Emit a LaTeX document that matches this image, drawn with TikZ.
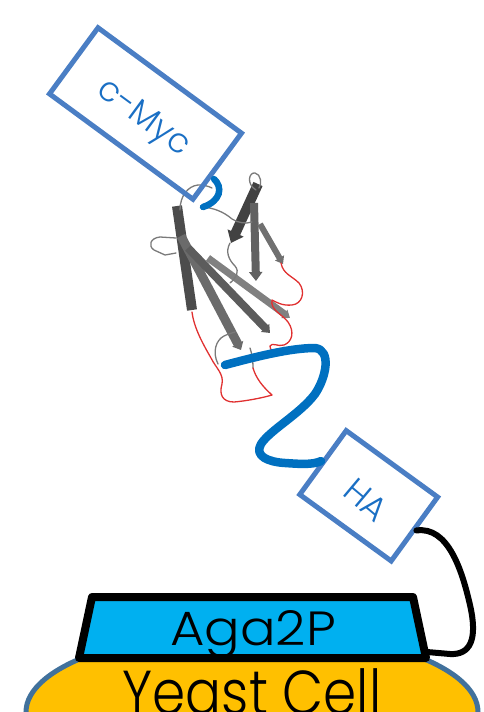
\documentclass[tikz,border=0pt]{standalone}
\usepackage{fontspec}
\setmainfont{Poppins Light}
\usetikzlibrary{arrows.meta}

\definecolor{tagedge}{HTML}{4A7EC4}
\definecolor{tagtext}{HTML}{1A6FC4}
\definecolor{linker}{HTML}{0070C0}
\definecolor{agafill}{HTML}{00B0F0}
\definecolor{cellfill}{HTML}{FFC000}
\definecolor{celledge}{HTML}{41719C}
\definecolor{loopred}{HTML}{E03030}
\definecolor{loopgray}{HTML}{7A7A7A}

\tikzset{
  tagbox/.style={draw=tagedge, line width=5pt, rectangle, inner sep=0pt},
  taglabel/.style={text=tagtext, font=\fontsize{34}{36}\selectfont, inner sep=0pt},
  betastrand/.style={line width=#1, line cap=butt},
  grayloop/.style={draw=loopgray, line width=1.3pt, line cap=round, line join=round},
  redloop/.style={draw=loopred, line width=1.3pt, line cap=round, line join=round},
  bluelink/.style={draw=linker, line width=8.5pt, line cap=round, line join=round},
  anchorlink/.style={draw=black, line width=6pt, line cap=round}
}

\begin{document}
\begin{tikzpicture}[x=1pt,y=-1pt]
\useasboundingbox (0,0) rectangle (483,712);

% yeast cell body, cut by the lower page edge
\begin{scope}
  \clip (0,0) rectangle (483,712);
  \draw[fill=cellfill, draw=celledge, line width=5pt] (252,712) ellipse [x radius=226, y radius=82];
  \node[anchor=base, font=\fontsize{62}{64}\selectfont, inner sep=0pt] (cell) at (252,714) {\scalebox{0.86}[1]{Yeast Cell}};
\end{scope}

% Aga2P anchor protein
\draw[fill=agafill, line width=8pt, line join=round]
  (92,597) -- (413,597) -- (426,658) -- (79,658) -- cycle;
\coordinate (agaR) at (427,652);
\node[anchor=base, font=\fontsize{48}{50}\selectfont, inner sep=0pt] (aga) at (253,645) {\scalebox{1.1}[1]{Aga2P}};

% beta strands of the displayed domain
\draw[betastrand=10pt, black!70] (177,206) -- (192,310);
\draw[betastrand=9pt, black!58, -{Triangle[length=7pt,width=12pt]}] (181,236) -- (241,350);
\draw[betastrand=8pt, black!64, -{Triangle[length=7pt,width=11pt]}] (188,248) -- (270,333);
\draw[betastrand=7pt, black!50, -{Triangle[length=7pt,width=10pt]}] (208,258) -- (290,318);
\draw[betastrand=10pt, black!74, -{Triangle[length=11pt,width=17pt]}] (258,184) -- (231,243);
\draw[betastrand=8pt, black!62, -{Triangle[length=9pt,width=13pt]}] (254,203) -- (256,281);
\draw[betastrand=6pt, black!56, -{Triangle[length=7pt,width=10pt]}] (260,224) -- (283,264);

% gray connecting loops
\draw[grayloop] (180,210) .. controls (180,196) and (188,186) .. (198,185) .. controls (204,185) and (208,186) .. (212,188);
\draw[grayloop] (203,207) .. controls (214,208) and (224,212) .. (232,219) .. controls (238,223) and (246,224) .. (252,222);
\draw[grayloop] (256,190) .. controls (246,184) and (249,172) .. (255,173) .. controls (261,174) and (262,184) .. (259,188);
\draw[grayloop] (176,238) -- (160,237) .. controls (150,238) and (148,246) .. (154,250) -- (165,255) -- (176,253);
\draw[grayloop] (230,243) .. controls (225,252) and (229,260) .. (235,266) .. controls (240,272) and (236,278) .. (230,283);
\draw[grayloop] (218,364) .. controls (212,352) and (216,340) .. (224,336) .. controls (228,334) and (232,333) .. (235,332);
\draw[grayloop] (250,348) .. controls (252,354) and (253,360) .. (253,368);

% red loops
\draw[redloop] (192,312) .. controls (194,328) and (203,344) .. (211,358)
  .. controls (216,368) and (224,374) .. (222,384) .. controls (219,394) and (222,402) .. (234,402)
  .. controls (246,401) and (262,398) .. (272,395) .. controls (262,386) and (256,378) .. (253,368);
\draw[redloop] (281,263) .. controls (283,274) and (292,276) .. (299,283)
  .. controls (306,292) and (302,304) .. (292,305) .. controls (282,306) and (276,302) .. (272,300)
  .. controls (270,310) and (282,314) .. (288,322) .. controls (295,332) and (292,342) .. (284,345)
  .. controls (278,347) and (272,342) .. (270,346) .. controls (269,351) and (276,352) .. (281,351);
\draw[redloop] (284,350) circle [radius=2.6];

% c-Myc tag and its short connection to the domain
\node[tagbox, minimum width=178pt, minimum height=82pt, rotate=-36.3] (myc) at (145.5,113.5) {};
\node[taglabel, rotate=-36.3] (myclabel) at (143,119) {c-Myc};
\draw[draw=linker, line width=6.5pt, line cap=round] (214,179) .. controls (223,187) and (221,201) .. (203,207);

% HA tag
\node[tagbox, minimum width=113pt, minimum height=79pt, rotate=-36] (ha) at (368.7,495.8) {};
\node[taglabel, rotate=-40] (halabel) at (366,500) {HA};

% flexible linker from the domain to HA
\coordinate (linkstart) at (225,365);
\draw[bluelink] (linkstart) .. controls (255,357) and (290,348) .. (315,348)
  .. controls (332,350) and (326,378) .. (315,394)
  .. controls (300,414) and (270,430) .. (261,444)
  .. controls (254,456) and (268,462) .. (285,463)
  .. controls (300,464) and (312,465) .. (ha.west);

% linker from HA to Aga2P
\draw[anchorlink] (ha.east) .. controls (448,526) and (462,570) .. (470,605)
  .. controls (478,640) and (470,655) .. (450,654) -- (agaR);
\end{tikzpicture}
\end{document}
